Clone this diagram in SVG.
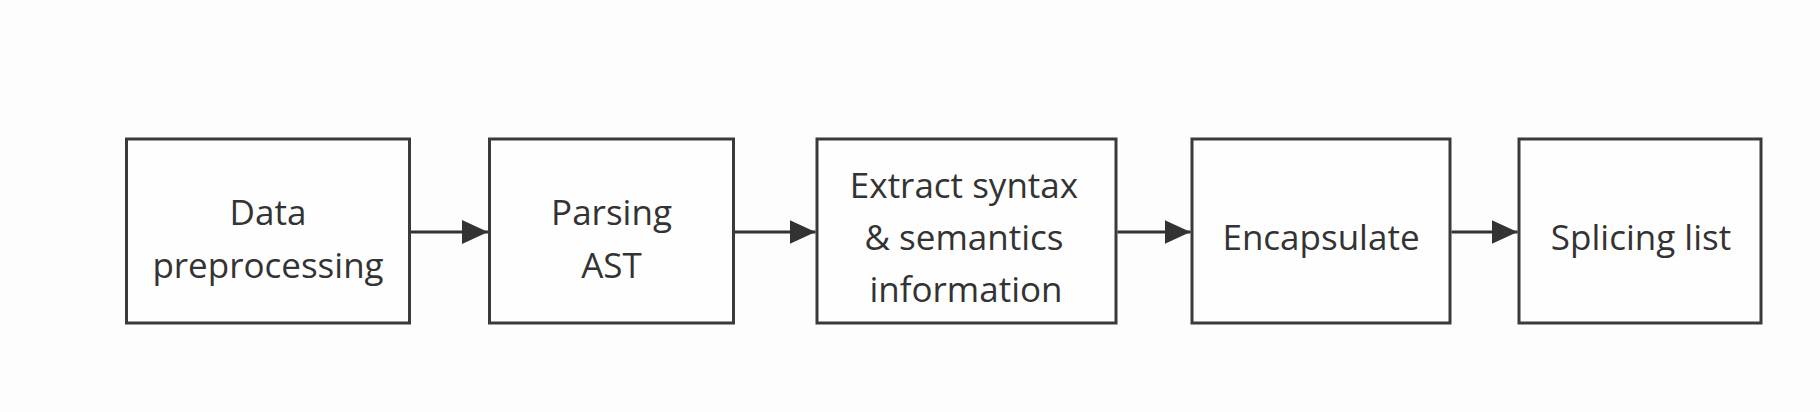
<svg xmlns="http://www.w3.org/2000/svg" width="1820" height="412" viewBox="0 0 1820 412">
<style>
.box{fill:#fefefe;stroke:#3a3a3a;stroke-width:3}
.lbl{font-family:"Open Sans","Noto Sans","DejaVu Sans",sans-serif;font-size:35px;fill:#333;text-anchor:middle}
.conn{stroke:#333;stroke-width:3;fill:none}
</style>
<defs>
<marker id="arr" markerUnits="userSpaceOnUse" markerWidth="28" markerHeight="24" refX="26" refY="12" orient="auto">
<path d="M0,0 L26,12 L0,24 Z" fill="#333"/>
</marker>
</defs>
<rect width="1820" height="412" fill="#fdfdfd"/>
<g id="n1"><rect class="box" x="126.5" y="139" width="283" height="184"/>
<text class="lbl" x="268" y="225">Data</text><text class="lbl" x="268" y="278">preprocessing</text></g>
<g id="n2"><rect class="box" x="489.5" y="139" width="244" height="184"/>
<text class="lbl" x="611.5" y="225">Parsing</text><text class="lbl" x="611.5" y="278">AST</text></g>
<g id="n3"><rect class="box" x="817" y="139" width="299" height="184"/>
<text class="lbl" x="964" y="198">Extract syntax</text><text class="lbl" x="964" y="250">&amp; semantics</text><text class="lbl" x="966" y="302">information</text></g>
<g id="n4"><rect class="box" x="1192" y="139" width="258" height="184"/>
<text class="lbl" x="1321" y="250">Encapsulate</text></g>
<g id="n5"><rect class="box" x="1519" y="139" width="242" height="184"/>
<text class="lbl" x="1641" y="250">Splicing list</text></g>
<g id="connectors">
<line class="conn" x1="411" y1="232" x2="488" y2="232" marker-end="url(#arr)"/>
<line class="conn" x1="735" y1="232" x2="815.5" y2="232" marker-end="url(#arr)"/>
<line class="conn" x1="1117.5" y1="232" x2="1190.5" y2="232" marker-end="url(#arr)"/>
<line class="conn" x1="1451.5" y1="232" x2="1517.5" y2="232" marker-end="url(#arr)"/>
</g>
</svg>
